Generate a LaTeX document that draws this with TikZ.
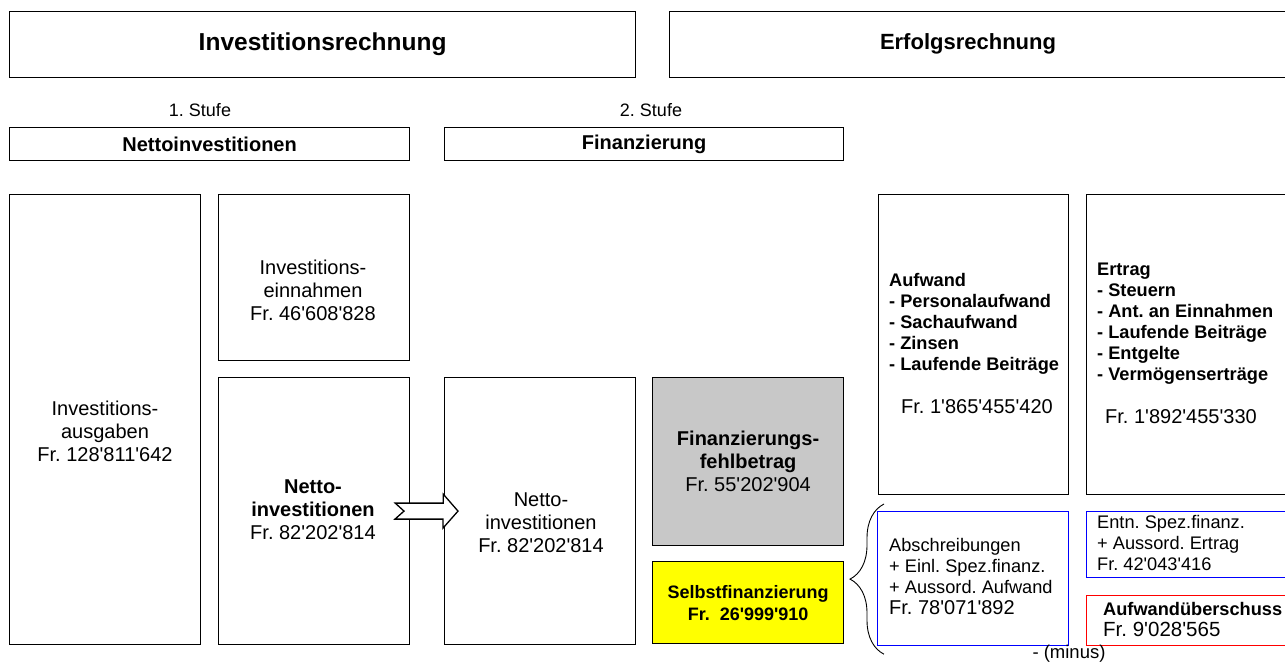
\documentclass[tikz,border=0pt]{standalone}
\usepackage{fontspec}
\setmainfont{Liberation Sans}[Ligatures=TeXOff]
\usetikzlibrary{calc,decorations.pathreplacing}

\definecolor{boxgray}{RGB}{200,200,200}
\definecolor{boxyellow}{RGB}{255,255,0}
\definecolor{boxblue}{RGB}{0,0,255}
\definecolor{boxred}{RGB}{255,0,0}

\begin{document}
\frenchspacing
\begin{tikzpicture}[x=1pt, y=-1pt,
  box/.style={draw, line width=1.2pt, anchor=north west, inner sep=0pt},
  head/.style={font=\fontsize{24.5}{28}\selectfont\bfseries},
  sub/.style={font=\fontsize{20}{22}\selectfont\bfseries},
  main/.style={align=center, font=\fontsize{20}{23}\selectfont},
  list/.style={align=left, anchor=west, inner sep=0pt, font=\fontsize{18.2}{21}\selectfont}]
\useasboundingbox (0,0) rectangle (1285,663);
\clip (0,0) rectangle (1285,663);
% Kopfzeile
\node[box, minimum width=626, minimum height=66] (inv) at (9,11) {};
\node[head] (invtxt) at (inv.center) {Investitionsrechnung};
\node[box, minimum width=640, minimum height=66] (erf) at (669,11) {};
\node[head, font=\fontsize{22}{26}\selectfont\bfseries] (erftxt) at (968,44) {Erfolgsrechnung};
% Stufen
\node[main, font=\fontsize{18}{21}\selectfont] (st1) at (200,110) {1. Stufe};
\node[main, font=\fontsize{18}{21}\selectfont] (st2) at (651,110) {2. Stufe};
\node[box, minimum width=400, minimum height=33] (netto) at (9,127) {};
\node[sub] (nettotxt) at (netto.center) {Nettoinvestitionen};
\node[box, minimum width=399, minimum height=33] (fin) at (444,127) {};
\node[sub] (fintxt) at (fin.center) {Finanzierung};
% Investitionsrechnung
\node[box, minimum width=191, minimum height=450] (ausg) at (9,194) {};
\node[main] (ausgtxt) at (105,431) {Investitions-\\ausgaben\\Fr. 128'811'642};
\node[box, minimum width=191, minimum height=166] (einn) at (218,194) {};
\node[main] (einntxt) at (313,290) {Investitions-\\einnahmen\\Fr. 46'608'828};
\node[box, minimum width=191, minimum height=267] (nettoA) at (218,377) {};
\node[main] (nettoAtxt) at (313,510) {\textbf{Netto-}\\\textbf{investitionen}\\Fr. 82'202'814};
\node[box, minimum width=191, minimum height=267] (nettoB) at (444,377) {};
\node[main] (nettoBtxt) at (541,523) {Netto-\\investitionen\\Fr. 82'202'814};
\node[box, fill=boxgray, minimum width=191, minimum height=168] (fehl) at (652,377) {};
\node[main] (fehltxt) at (fehl.center) {\textbf{Finanzierungs-}\\\textbf{fehlbetrag}\\Fr. 55'202'904};
\node[box, fill=boxyellow, minimum width=191, minimum height=82] (selbst) at (652,561) {};
\node[main, font=\fontsize{18}{22}\selectfont\bfseries] (selbsttxt) at (selbst.center) {Selbstfinanzierung\\Fr.\ \ 26'999'910};
% Pfeil
\coordinate (pa) at ($(nettoA.east)+(-15,0)$);
\coordinate (pb) at ($(nettoB.west)+(14,0)$);
\draw[line width=1.3pt, fill=white, line join=miter]
  (pa) ++(0,-8) -- ++(48,0) -- ++(0,-9) -- (pb) -- ++(-15,17) -- ++(0,-9)
  -- ++(-48,0) -- ++(9,-8) -- cycle;
% Erfolgsrechnung
\node[box, minimum width=190, minimum height=300] (aufw) at (878,194) {};
\node[list] (aufwtxt) at (889,344) {\textbf{Aufwand}\\\textbf{- Personalaufwand}\\\textbf{- Sachaufwand}\\\textbf{- Zinsen}\\\textbf{- Laufende Beiträge}\\[22pt]
  \hspace*{12pt}{\fontsize{20}{21}\selectfont Fr. 1'865'455'420}};
\node[box, minimum width=220, minimum height=300] (ertr) at (1086,194) {};
\node[list] (ertrtxt) at (1097,343) {\textbf{Ertrag}\\\textbf{- Steuern}\\\textbf{- Ant. an Einnahmen}\\\textbf{- Laufende Beiträge}\\\textbf{- Entgelte}\\\textbf{- Vermögenserträge}\\[22pt]
  \hspace*{8pt}{\fontsize{20}{21}\selectfont Fr. 1'892'455'330}};
\node[box, draw=boxblue, minimum width=191, minimum height=134] (abschr) at (877,511) {};
\node[list] (abschrtxt) at (889,576) {Abschreibungen\\+ Einl. Spez.finanz.\\+ Aussord. Aufwand\\{\fontsize{20}{21}\selectfont Fr. 78'071'892}};
\node[box, draw=boxblue, minimum width=220, minimum height=66] (entn) at (1086,511) {};
\node[list] (entntxt) at (1097,543) {Entn. Spez.finanz.\\+ Aussord. Ertrag\\Fr. 42'043'416};
\node[box, draw=boxred, minimum width=220, minimum height=50] (ueber) at (1086,595) {};
\node[list] (uebertxt) at (1103,620) {\textbf{Aufwandüberschuss}\\{\fontsize{20.5}{22}\selectfont Fr. 9'028'565}};
% Klammer
\draw[line width=0.9pt, decorate, decoration={brace, amplitude=34pt, aspect=0.5}]
  ($(abschr.south west)+(7,8)$) -- ($(abschr.north west)+(7,-7)$);
\node[main, font=\fontsize{18.5}{20}\selectfont] (minus) at (1069,654) {- (minus)};
\end{tikzpicture}
\end{document}
